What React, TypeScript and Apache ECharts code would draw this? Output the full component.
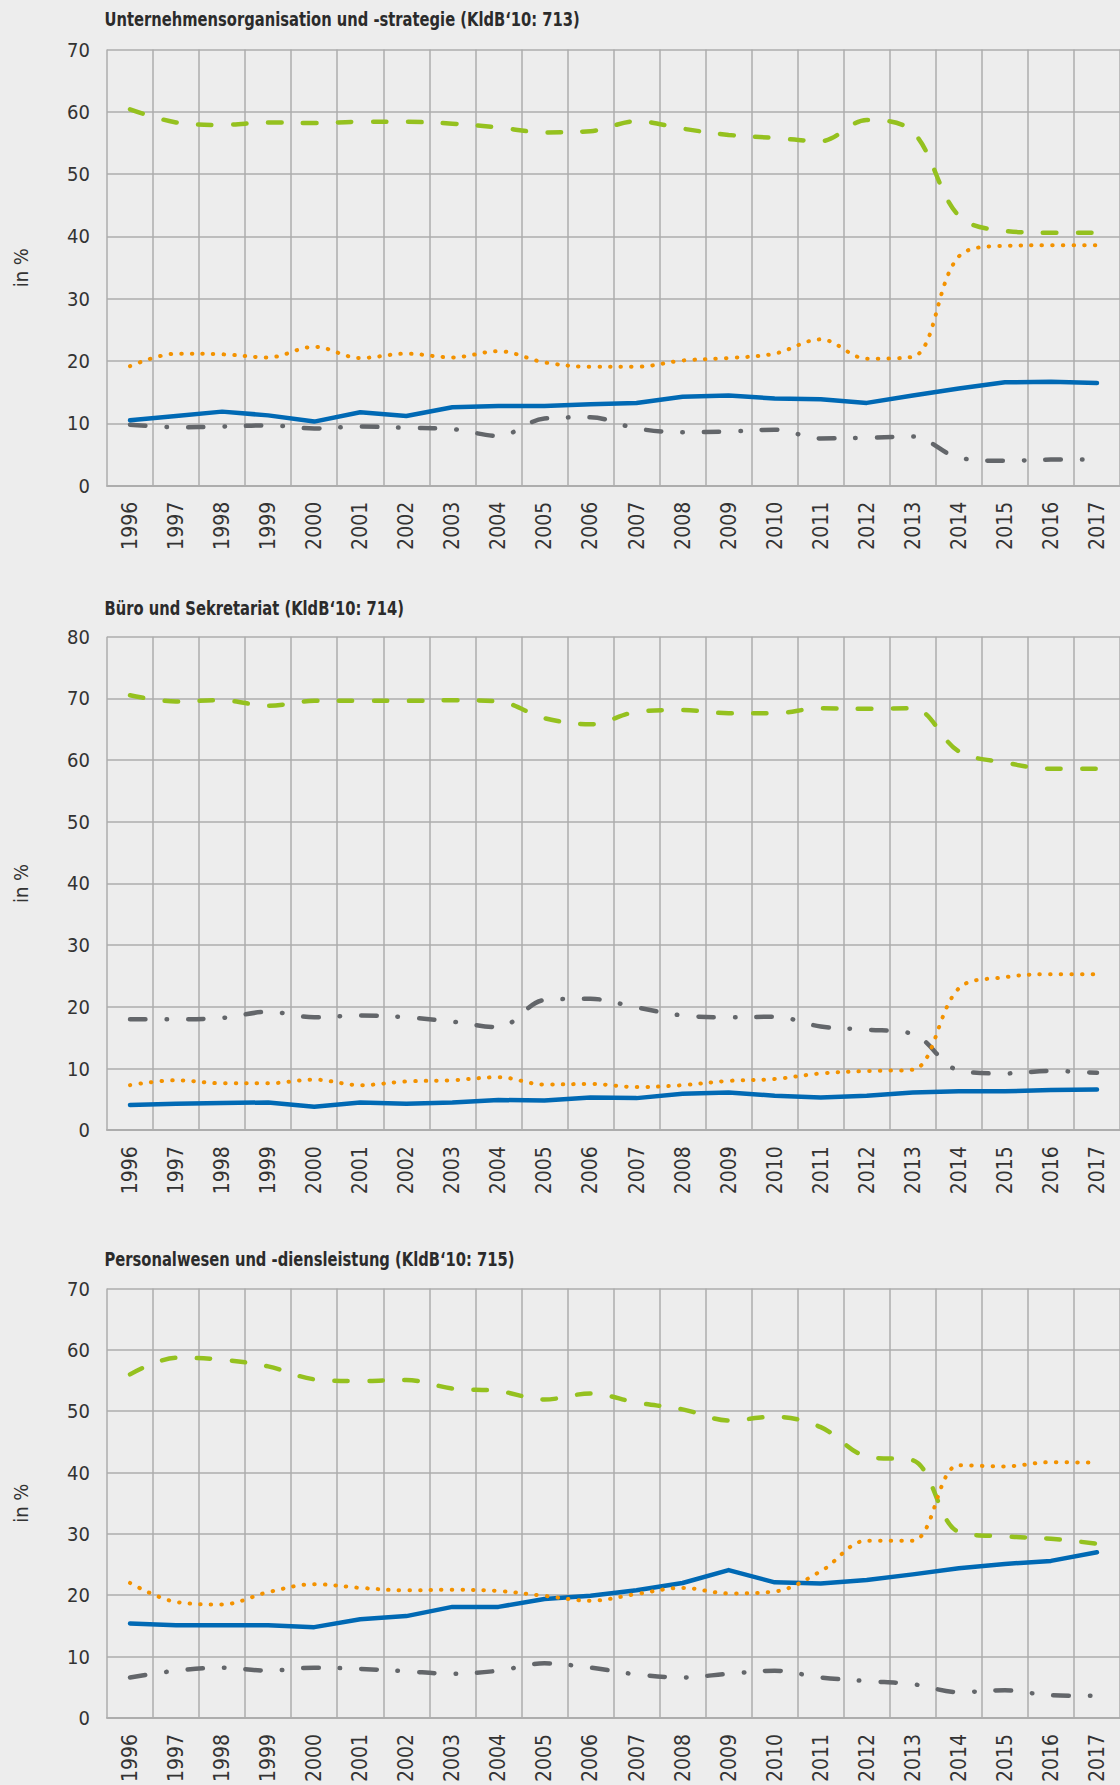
import React, { useEffect, useRef } from "react";
import * as echarts from "echarts";

const years = ["1996","1997","1998","1999","2000","2001","2002","2003","2004","2005","2006","2007","2008","2009","2010","2011","2012","2013","2014","2015","2016","2017"];

const titles = [
  "Unternehmensorganisation und -strategie (KldB‘10: 713)",
  "Büro und Sekretariat (KldB‘10: 714)",
  "Personalwesen und -diensleistung (KldB‘10: 715)",
];
const yMax = [70, 80, 70];
const yAxisName = "in %";

// Chart 1 (713)
const c1Blue = [10.5, 11.2, 11.9, 11.3, 10.3, 11.8, 11.2, 12.6, 12.8, 12.8, 13.1, 13.3, 14.3, 14.5, 14.0, 13.9, 13.3, 14.5, 15.6, 16.6, 16.7, 16.5];
const c1Green = [60.4, 58.3, 57.9, 58.3, 58.2, 58.4, 58.4, 58.1, 57.5, 56.7, 56.9, 58.5, 57.3, 56.3, 55.8, 55.3, 58.7, 56.8, 43.3, 40.9, 40.6, 40.6];
const c1Orange = [19.2, 21.2, 21.1, 20.6, 22.3, 20.5, 21.2, 20.6, 21.6, 19.8, 19.1, 19.1, 20.1, 20.5, 21.2, 23.5, 20.4, 20.7, 36.8, 38.5, 38.6, 38.6];
const c1Gray = [9.8, 9.4, 9.5, 9.7, 9.2, 9.5, 9.3, 9.1, 8.0, 10.8, 11.0, 9.2, 8.6, 8.7, 9.0, 7.6, 7.7, 7.9, 4.5, 4.0, 4.2, 4.2];

// Chart 2 (714)
const c2Blue = [4.1, 4.3, 4.4, 4.5, 3.8, 4.5, 4.3, 4.5, 4.9, 4.8, 5.3, 5.2, 5.9, 6.1, 5.6, 5.3, 5.6, 6.1, 6.3, 6.3, 6.5, 6.6];
const c2Green = [70.5, 69.5, 69.7, 68.8, 69.6, 69.6, 69.6, 69.7, 69.5, 66.8, 65.8, 67.8, 68.1, 67.6, 67.6, 68.4, 68.3, 68.4, 61.4, 59.6, 58.6, 58.6];
const c2Orange = [7.3, 8.1, 7.6, 7.6, 8.2, 7.3, 7.9, 8.1, 8.6, 7.4, 7.5, 7.0, 7.3, 8.0, 8.3, 9.2, 9.6, 9.8, 23.0, 24.8, 25.3, 25.3];
const c2Gray = [18.0, 18.0, 18.2, 19.2, 18.3, 18.6, 18.3, 17.6, 16.7, 21.1, 21.3, 19.9, 18.6, 18.3, 18.4, 16.8, 16.3, 15.6, 9.7, 9.2, 9.6, 9.3];

// Chart 3 (715)
const c3Blue = [15.4, 15.1, 15.1, 15.1, 14.8, 16.1, 16.6, 18.1, 18.1, 19.4, 19.9, 20.8, 22.0, 24.1, 22.1, 21.9, 22.5, 23.4, 24.4, 25.1, 25.6, 27.0];
const c3Green = [56.0, 58.7, 58.4, 57.3, 55.2, 54.9, 55.1, 53.7, 53.3, 51.9, 52.9, 51.4, 50.3, 48.5, 49.1, 47.4, 42.6, 42.0, 30.3, 29.6, 29.2, 28.4];
const c3Orange = [22.0, 18.9, 18.5, 20.5, 21.8, 21.2, 20.8, 20.9, 20.7, 19.9, 19.1, 20.2, 21.2, 20.3, 20.6, 23.9, 28.9, 28.9, 41.2, 41.0, 41.7, 41.6];
const c3Gray = [6.6, 7.7, 8.2, 7.7, 8.2, 8.0, 7.6, 7.2, 7.7, 8.9, 8.2, 7.1, 6.6, 7.2, 7.7, 6.6, 6.0, 5.5, 4.2, 4.5, 3.7, 3.6];

const panels = [
  { blue: c1Blue, green: c1Green, orange: c1Orange, gray: c1Gray },
  { blue: c2Blue, green: c2Green, orange: c2Orange, gray: c2Gray },
  { blue: c3Blue, green: c3Green, orange: c3Orange, gray: c3Gray },
];

const FONT = "'Liberation Sans Narrow', 'DejaVu Sans Condensed', 'Roboto Condensed', sans-serif";
const BG = "#EDEDED";
const GRID = "#ADADAD";
const TEXT = "#333333";

const grids = [
  { left: 107, top: 49.5, width: 1014, height: 436.3 },
  { left: 107, top: 636.7, width: 1014, height: 493.5 },
  { left: 107, top: 1288.5, width: 1014, height: 433.5 },
];
const titleYs = [19, 607.5, 1258.5];

export default function App() {
  const ref = useRef<HTMLDivElement>(null);
  useEffect(() => {
    document.body.style.margin = "0";
    document.body.style.background = BG;
    const chart = echarts.init(ref.current!, undefined, { renderer: "svg" });
    const series: any[] = [];
    panels.forEach((p, i) => {
      series.push({
        name: "Reihe grau", type: "line", xAxisIndex: i, yAxisIndex: i, data: p.gray,
        symbol: "none", smooth: 0.35,
        lineStyle: { color: "#63666A", width: 4.5, type: [15.5, 21, 0.5, 21], cap: "round" },
      });
      series.push({
        name: "Reihe grün", type: "line", xAxisIndex: i, yAxisIndex: i, data: p.green,
        symbol: "none", smooth: 0.35,
        lineStyle: { color: "#95C11F", width: 4.5, type: [13.5, 21.5], cap: "round" },
      });
      series.push({
        name: "Reihe blau", type: "line", xAxisIndex: i, yAxisIndex: i, data: p.blue,
        symbol: "none", smooth: false,
        lineStyle: { color: "#0069B4", width: 4.5, type: "solid", cap: "round", join: "round" },
      });
      series.push({
        name: "Reihe orange", type: "line", xAxisIndex: i, yAxisIndex: i, data: p.orange,
        symbol: "none", smooth: 0.35,
        lineStyle: { color: "#F39200", width: 4, type: [0.5, 10.1], cap: "round" },
      });
    });
    const option: any = {
      animation: false,
      backgroundColor: BG,
      graphic: titles.map((t, i) => ({
        type: "text",
        x: 104.5,
        y: titleYs[i],
        scaleX: 0.84,
        style: {
          text: t,
          fontFamily: FONT,
          fontWeight: "bold",
          fontSize: 19.5,
          fill: "#2b2b2b",
          verticalAlign: "middle",
          align: "left",
        },
      })),
      grid: grids.map((g) => ({ ...g, containLabel: false })),
      xAxis: grids.map((_, i) => ({
        type: "category",
        gridIndex: i,
        data: years,
        boundaryGap: true,
        axisTick: { show: false },
        axisLine: { show: true, lineStyle: { color: GRID, width: 2 } },
        splitLine: { show: true, interval: 0, lineStyle: { color: GRID, width: 1.5 } },
        axisLabel: { interval: 0, rotate: 90, margin: 16, fontSize: 21, color: TEXT, fontFamily: FONT },
      })),
      yAxis: grids.map((_, i) => ({
        type: "value",
        gridIndex: i,
        min: 0,
        max: yMax[i],
        interval: 10,
        name: yAxisName,
        nameLocation: "middle",
        nameRotate: 90,
        nameGap: 76,
        nameTextStyle: { fontSize: 20, color: TEXT, fontFamily: FONT },
        axisLine: { show: false },
        axisTick: { show: false },
        splitLine: { show: true, lineStyle: { color: GRID, width: 1.5 } },
        axisLabel: { fontSize: 20, color: TEXT, margin: 17, fontFamily: FONT },
      })),
      series,
    };
    chart.setOption(option);
    return () => chart.dispose();
  }, []);
  return <div ref={ref} style={{ width: 1120, height: 1785 }} />;
}
